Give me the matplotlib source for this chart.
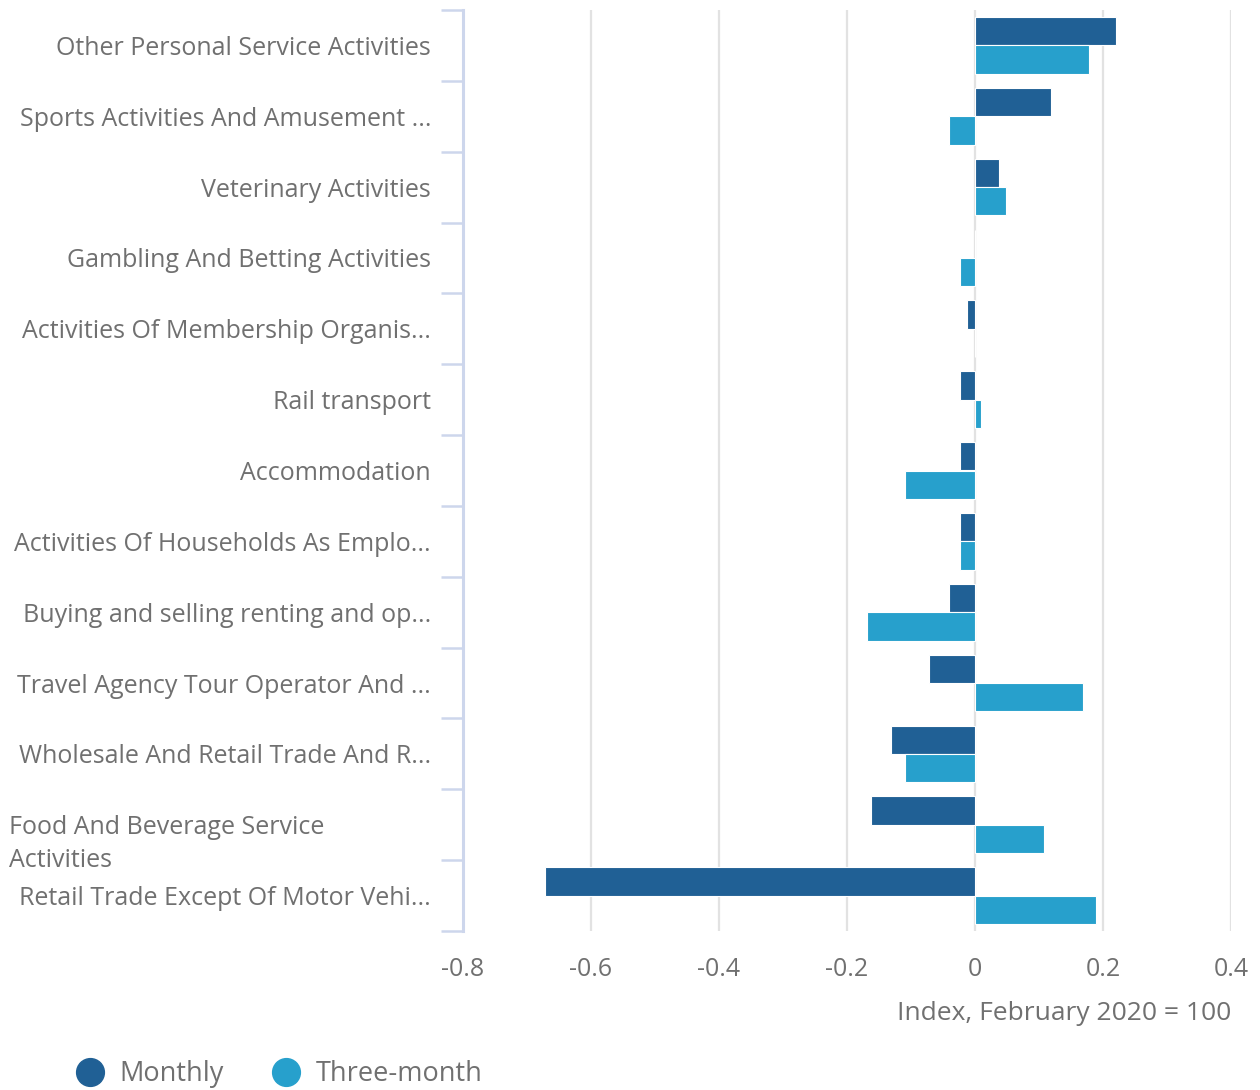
import matplotlib
matplotlib.use("Agg")
import matplotlib.pyplot as plt
import matplotlib.transforms as mtransforms
from matplotlib.lines import Line2D
import numpy as np

plt.rcParams['font.family'] = ['Open Sans', 'DejaVu Sans']

# Data
categories = [
    "Other Personal Service Activities",
    "Sports Activities And Amusement ...",
    "Veterinary Activities",
    "Gambling And Betting Activities",
    "Activities Of Membership Organis...",
    "Rail transport",
    "Accommodation",
    "Activities Of Households As Emplo...",
    "Buying and selling renting and op...",
    "Travel Agency Tour Operator And ...",
    "Wholesale And Retail Trade And R...",
    "Food And Beverage Service\nActivities",
    "Retail Trade Except Of Motor Vehi...",
]
monthly = [0.221, 0.119, 0.038, 0.0, -0.012, -0.023, -0.023, -0.023,
           -0.040, -0.072, -0.131, -0.163, -0.672]
three_month = [0.178, -0.040, 0.049, -0.023, 0.0, 0.009, -0.110, -0.023,
               -0.169, 0.168, -0.110, 0.108, 0.189]
x_ticks = [-0.8, -0.6, -0.4, -0.2, 0, 0.2, 0.4]
x_tick_labels = ["-0.8", "-0.6", "-0.4", "-0.2", "0", "0.2", "0.4"]
series_names = ["Monthly", "Three-month"]

DARK = "#206095"
LIGHT = "#27A0CC"
TEXT = "#707070"
GRID = "#e2e2e2"
AXIS = "#cdd6ec"

W, H = 1260, 1090
fig = plt.figure(figsize=(W / 100, H / 100), dpi=100)
ax = fig.add_axes([463 / W, 1 - 931 / H, (1231 - 463) / W, (931 - 10) / H])

y = np.arange(len(categories))
bh = 0.4
ax.barh(y - bh / 2, monthly, height=bh, color=DARK, edgecolor="white",
        linewidth=0.8, zorder=3)
ax.barh(y + bh / 2, three_month, height=bh, color=LIGHT, edgecolor="white",
        linewidth=0.8, zorder=3)

ax.set_xlim(-0.8, 0.4)
ax.set_ylim(len(categories) - 0.5, -0.5)

ax.set_xticks(x_ticks)
ax.set_xticklabels(x_tick_labels, fontsize=18, color=TEXT)
ax.tick_params(axis="x", length=0, pad=19)
ax.grid(axis="x", color=GRID, linewidth=1.6, zorder=0)

# category boundary ticks on the left spine
ax.set_yticks(np.arange(len(categories) + 1) - 0.5)
ax.set_yticklabels([])
ax.tick_params(axis="y", length=16, width=1.8, color=AXIS)

for side in ["top", "right", "bottom"]:
    ax.spines[side].set_visible(False)
ax.spines["left"].set_color(AXIS)
ax.spines["left"].set_linewidth(2.2)

# category labels
trans = mtransforms.blended_transform_factory(fig.transFigure, ax.transData)
for i, name in enumerate(categories):
    if "\n" in name:
        ax.text(9 / W, i + 0.27, name, transform=trans, ha="left",
                va="center", fontsize=18, color=TEXT, linespacing=1.42)
    else:
        ax.text(431 / W, i, name, transform=trans, ha="right",
                va="center_baseline", fontsize=18, color=TEXT)

fig.text(1231 / W, 1 - 1013 / H, "Index, February 2020 = 100", ha="right",
         va="center", fontsize=19, color=TEXT)

handles = [Line2D([], [], marker="o", linestyle="none", markersize=20,
                  markerfacecolor=c, markeredgecolor=c) for c in (DARK, LIGHT)]
fig.legend(handles, series_names, loc="center left",
           bbox_to_anchor=(76 / W, 1 - 1074 / H), ncol=2, frameon=False,
           fontsize=19.5, labelcolor=TEXT, handlelength=1.0,
           handletextpad=0.6, columnspacing=1.8, borderpad=0,
           borderaxespad=0)

fig.savefig("out.png", dpi=100)
